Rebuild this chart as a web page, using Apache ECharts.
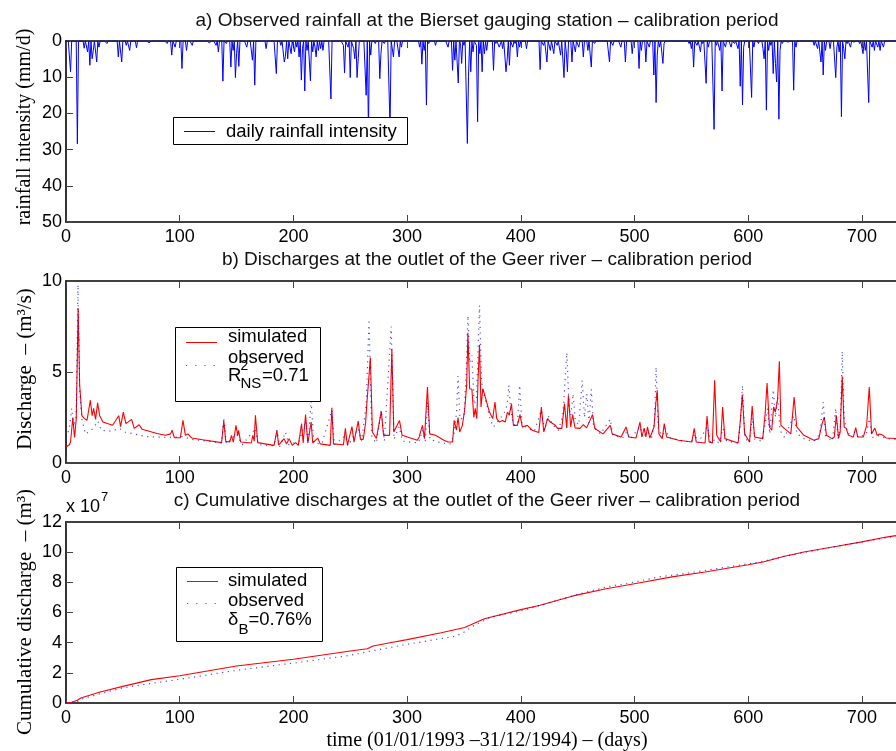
<!DOCTYPE html>
<html>
<head>
<meta charset="utf-8">
<script src="https://cdn.jsdelivr.net/npm/echarts@6/dist/echarts.min.js"></script>
<style>
html,body{margin:0;padding:0;background:#fff;overflow:hidden;}
#c{width:896px;height:751px;}
</style>
</head>
<body>
<div id="c"></div>
<script>
// ---------- DATA ----------
const xTicks = [0, 100, 200, 300, 400, 500, 600, 700];
const nDays = 730;

// rainy days: [day, mm/d] ; all other days are dry (0)
const rainfallEvents = [
[4,8.5],[10,28.4],[16,2],[19,3],[21,6.7],[23,4.9],[24,2.6],[27,5.8],[29,1.7],[33,0.5],[36,0.7],
[46,4.4],[49,5.8],[53,1.2],[56,2.6],[62,1.9],[73,0.5],[89,0.7],[93,3.9],[96,1.7],[102,7.6],[106,2.6],
[111,1.2],[126,0.5],[132,1.2],[134,3],[138,11.1],[141,0.7],[145,7.2],[147,2.6],[149,10.1],[150,3.5],
[152,7],[159,1.7],[164,5.3],[166,12.2],[176,2.1],[185,9],[189,1.2],[192,5.8],[193,4.2],[195,4.9],
[198,3.5],[201,3],[203,1.7],[205,4.4],[207,10.8],[208,2.1],[210,13.8],[212,2.6],[215,11],[217,3],
[219,1.7],[220,4.4],[222,2.6],[224,2.1],[226,2.6],[233,16],[244,1.2],[245,8.8],[248,1.7],[250,10.1],
[253,2.1],[254,4.9],[256,10.1],[257,4.9],[261,0.5],[264,15],[266,25],[268,3.9],[272,0.7],[276,10.4],
[277,3.5],[280,0.7],[285,24],[288,4.4],[293,4.4],[295,1.7],[305,0.5],[311,1.7],[313,6.4],[315,2.6],
[317,17.7],[319,0.7],[325,1.2],[333,0.5],[336,1.7],[340,8.1],[342,5.3],[345,11.6],[347,0.7],[348,6.2],
[350,1.2],[353,28.3],[354,9.9],[356,8.5],[358,3],[361,1.2],[362,22.3],[364,3.5],[366,8.5],[368,3.5],
[370,2.6],[376,8.1],[378,0.7],[381,1.7],[382,1.2],[384,2.1],[387,8.5],[388,5.3],[390,6.7],[393,1.7],
[395,0.7],[397,4.4],[399,1.7],[405,2.1],[417,7.9],[420,1.2],[423,5.8],[426,2.6],[429,3.5],[432,1.2],
[435,3.9],[438,10.1],[440,3],[441,8.5],[445,5.8],[448,3],[451,1.7],[455,4.4],[459,2.6],[462,7.2],
[465,0.7],[478,5.8],[481,1.2],[488,1.7],[492,5.8],[498,3.5],[504,7.6],[506,2.6],[510,5.8],[513,1.7],
[517,9.4],[519,17],[520,3.9],[522,1.7],[525,6.2],[526,0.7],[548,0.7],[550,2.1],[552,7.2],[555,1.2],
[558,3],[560,0.7],[563,11.7],[565,1.7],[570,24.4],[572,1.2],[575,2.6],[577,13.8],[580,1.7],[585,1.7],
[588,0.7],[591,2.1],[593,12.5],[595,17.7],[596,1.7],[600,0.3],[603,15.6],[605,1.7],[609,0.7],[613,2.1],
[614,4.9],[616,19.1],[618,2.6],[620,1.2],[622,9],[624,6.2],[625,11.3],[627,21.6],[628,2.6],[630,0.7],
[635,0.3],[640,13.6],[642,1.7],[658,1.2],[661,2.1],[664,5.8],[666,9.4],[668,2.6],[672,2.1],[677,10.1],
[678,1.7],[680,3],[682,20.9],[684,2.1],[685,4.9],[687,0.7],[690,1.7],[693,0.3],[698,0.7],[701,3.5],
[703,2.6],[706,17],[709,1.7],[711,2.6],[714,1.7],[716,2.6],[719,1.7]
];

// simulated discharge (m3/s): [day, Q]
const dischargeSim = [
[0,0.88],[3,1.0],[4,1.15],[6,2.5],[7.5,1.4],[9,2.4],[10.7,8.5],[12,4.3],[14,2.6],[16,2.45],[18.5,2.35],
[21.4,3.45],[23,2.6],[24.3,3.0],[26,2.4],[27.8,3.3],[29.6,2.6],[32.5,2.25],[41,2.07],[46.4,2.6],[48,2.0],
[50.4,2.8],[52.7,2.16],[57.7,2.4],[60,1.9],[64.3,2.1],[67,1.85],[80,1.62],[87.5,1.52],[92,1.6],[93.3,1.8],
[95.3,1.39],[100.6,1.39],[102.9,2.34],[105,1.52],[107.2,1.6],[110.7,1.37],[120,1.28],[136.8,1.12],
[138.8,2.3],[140.5,1.19],[144,1.15],[145.5,1.52],[147.2,1.15],[149.5,2.07],[151,1.5],[151.8,1.8],
[153.6,1.15],[163,1.1],[164.3,1.52],[165.5,1.2],[166.6,2.62],[168.6,1.12],[183,0.97],[185.5,1.8],[187,0.98],
[191.8,1.34],[194,1.05],[196.2,1.34],[199,0.97],[202,1.12],[204.3,0.97],[207.2,2.16],[208.6,1.1],
[210.7,2.66],[212.7,1.1],[215.6,2.25],[217,1.1],[221.4,1.37],[223.6,1.05],[232.4,0.97],[233.8,3.04],
[235.3,1.05],[244,1.0],[245.7,1.9],[247.5,0.97],[251.5,2.0],[253.3,1.15],[257,2.3],[259,1.3],[261.4,1.3],
[263.5,2.2],[264.5,3.17],[266,3.1],[267.7,5.8],[269.5,1.7],[273,1.35],[277.3,2.84],[279.3,1.52],
[284.6,1.52],[286.6,6.28],[288.3,1.7],[293.3,2.34],[295.6,1.52],[309,1.25],[310.6,1.43],[313.5,2.07],
[315.3,1.34],[317.9,4.18],[319.9,1.6],[325,1.52],[332.4,1.25],[336,1.15],[340,1.15],[341.4,2.34],
[343.4,1.8],[344.8,2.5],[346.3,1.7],[348.6,2.07],[350.6,2.9],[352.4,4.27],[353.5,7.16],[355,4.08],
[357,4.05],[358.7,2.5],[359.9,3.0],[361.3,2.44],[362.5,4.7],[363.7,6.5],[365,3.08],[366.6,4.08],[368,3.8],
[370,3.35],[372.4,2.8],[375.3,2.44],[377.3,3.35],[378.8,2.44],[381,2.25],[384,2.34],[386.3,2.25],
[388.3,2.8],[389.8,2.62],[391.8,3.26],[393.5,2.07],[397,2.07],[399.3,2.66],[401.3,1.98],[405.7,2.07],
[410,1.8],[415.8,1.67],[418.1,3.08],[420.2,1.7],[423.6,2.44],[426,2.25],[430.3,2.07],[432.3,1.9],
[436.1,1.9],[438.4,3.26],[440.4,1.93],[441.9,3.72],[443.9,1.98],[445.6,2.66],[447.7,1.93],[452,1.9],
[455,2.11],[457.9,1.93],[463.1,2.66],[465.1,1.9],[472.3,1.6],[478.7,2.07],[480.4,1.6],[488.2,1.43],
[492.6,1.98],[494.9,1.43],[501.3,1.37],[504.8,2.25],[506.5,1.43],[508.5,1.92],[510,1.43],[511.4,1.98],
[513.5,1.37],[517.2,1.98],[518.6,3.17],[520,4.0],[521.5,1.6],[524.4,1.34],[526.2,2.16],[528.2,1.43],
[538.8,1.25],[550.4,1.15],[552.5,1.9],[554.3,1.15],[562.1,1.1],[563.8,2.58],[565.6,1.15],[568.5,1.1],
[570.5,4.54],[572.3,1.52],[575.8,1.15],[577.5,3.08],[579.5,1.34],[591.1,1.1],[593.1,2.34],[594.8,3.75],
[596.9,1.6],[601.2,1.15],[603.5,3.13],[605.6,1.43],[612.8,1.34],[614.9,2.71],[616.6,4.4],[618.7,1.98],
[620.7,1.8],[622.4,3.08],[623.9,2.8],[625.9,3.53],[627.4,5.59],[628.8,2.07],[631.7,1.9],[637.5,1.6],
[640.4,3.63],[642.7,1.98],[649,1.52],[657.8,1.25],[662.1,1.34],[665,2.16],[667,2.53],[668.8,1.52],
[673.7,1.34],[675.7,1.43],[677.5,2.62],[679.5,1.37],[680.9,1.7],[682.7,4.76],[684.4,1.98],[686.2,1.9],
[688.2,1.52],[692.5,1.43],[694.6,1.94],[696.3,1.43],[701.3,1.43],[704.2,2.07],[706.5,4.18],[708.5,1.6],
[711.4,1.92],[713.4,1.52],[715.7,1.6],[718.6,1.52],[721.5,1.37],[730,1.35]
];

// observed discharge (m3/s): [day, Q]
const dischargeObs = [
[0,1.4],[3,1.9],[5,3.0],[7,2.0],[9,2.6],[10.5,9.8],[12,4.0],[14,2.4],[17,1.6],[20,1.7],[24,1.9],[28,2.3],
[31,1.8],[40,1.75],[47,1.9],[52,1.7],[60,1.6],[70,1.45],[90,1.4],[103,1.45],[110,1.3],[125,1.2],[137,1.1],
[138.8,2.5],[141,1.05],[150,1.6],[155,1.0],[166.6,1.9],[169,1.0],[183,0.95],[185.5,1.8],[188,0.9],[193,1.7],
[196,1.0],[205,1.2],[210.7,2.3],[213,1.1],[215.6,3.4],[218,1.1],[225,1.05],[233.8,2.9],[236,1.0],
[245.7,1.5],[248,0.95],[257,1.9],[260,1.2],[264,3.2],[266.5,7.9],[269,1.4],[273,1.1],[277.3,2.9],
[280,1.2],[286,7.5],[288.5,1.3],[293,2.0],[296,1.2],[310,1.1],[313.5,1.8],[316,1.2],[318,3.35],[320,1.3],
[330,1.1],[338,1.05],[341,1.5],[343.5,2.8],[344.8,4.78],[346.5,2.4],[350,2.5],[352,5.0],[353.5,8.1],
[355,5.5],[357,5.9],[359,3.2],[361,3.5],[363.7,8.66],[365.5,4.5],[367,3.9],[370,3.2],[373,2.4],[376,1.98],
[380,2.3],[385,2.7],[388,3.2],[389.5,4.27],[391,3.0],[393.5,2.1],[397,2.1],[399,4.27],[401,2.2],[406,1.9],
[412,1.75],[418,2.9],[421,1.8],[424,2.6],[428,2.1],[433,1.8],[437,2.6],[440.5,6.06],[442.5,3.0],[444,2.6],
[446,3.8],[448,2.3],[451,2.1],[454,4.54],[456,2.5],[458,3.8],[460,2.2],[462,4.05],[464,2.0],[470,1.6],
[478.7,2.4],[481,1.5],[490,1.4],[493,1.7],[496,1.3],[505,2.0],[507,1.4],[512,1.7],[515,1.4],[517.5,2.2],
[519,5.27],[521,1.8],[525,1.5],[527,1.9],[530,1.4],[540,1.25],[550,1.15],[553,1.6],[556,1.1],[564,2.0],
[567,1.1],[571,1.3],[574,1.1],[578,1.9],[581,1.2],[591,1.1],[593,2.0],[595,4.27],[597,1.4],[601,1.1],
[603.5,2.5],[606,1.3],[612,1.2],[615,2.2],[617,3.0],[619,1.6],[622,4.03],[624,2.5],[626,3.6],[628,1.8],
[632,1.4],[640,2.6],[643,1.6],[650,1.3],[658,1.2],[663,1.6],[666,3.35],[668,1.5],[674,1.2],[677,3.0],
[679,1.3],[681,2.0],[682.7,6.14],[684.5,2.3],[688,1.6],[694,1.7],[697,1.4],[704,1.6],[706.5,2.44],
[709,1.4],[715,1.5],[721,1.35],[730,1.3]
];

// cumulative discharge (x 1e7 m3): [day, V]
const cumulativeSim = [
[0,0],[5,0.05],[10,0.18],[13,0.33],[30,0.73],[50,1.1],[75,1.55],[100,1.81],[150,2.45],[200,2.9],[250,3.45],
[265,3.6],[270,3.78],[285,4.0],[300,4.2],[330,4.66],[350.6,5.0],[368,5.59],[400,6.19],[417,6.48],[446,7.1],
[475,7.58],[500,7.91],[533,8.36],[562,8.69],[600,9.17],[613,9.35],[632,9.73],[649,10.01],[678,10.39],
[700,10.68],[721.5,11.0],[730,11.1]
];
const cumulativeObs = [
[0,0],[5,0.03],[10,0.1],[13,0.25],[30,0.62],[50,1.0],[75,1.3],[100,1.57],[150,2.17],[200,2.65],[250,3.16],
[265,3.4],[300,3.89],[330,4.27],[342,4.42],[349,4.64],[359,5.15],[374,5.7],[400,6.1],[417,6.48],[446,7.12],
[475,7.69],[500,8.02],[521.5,8.36],[547.6,8.62],[568,8.86],[595,9.17],[613,9.39],[632,9.73],[678,10.39],
[721.5,10.96],[730,11.05]
];

const titles = [
  'a) Observed rainfall at the Bierset gauging station \u2013 calibration period',
  'b) Discharges at the outlet of the Geer river \u2013 calibration period',
  'c) Cumulative discharges at the outlet of the Geer river \u2013 calibration period'
];
const yNames = ['rainfall intensity (mm/d)', 'Discharge  \u2013 (m\u00B3/s)', 'Cumulative discharge  \u2013 (m\u00B3)'];
const xName = 'time (01/01/1993 \u201331/12/1994) \u2013 (days)';

// ---------- build ----------
const rainDaily = [];
for (let d = 0; d <= nDays; d++) rainDaily.push([d, 0]);
rainfallEvents.forEach(e => { rainDaily[e[0]][1] = e[1]; });

const SANS = 'Liberation Sans, Arial, Helvetica, sans-serif';
const SERIF = 'Liberation Serif, Times New Roman, serif';
const BLUE = '#0000ff', RED = '#ff0000';

const grids = [
  {left: 66, top: 41, width: 840, height: 181},
  {left: 66, top: 281, width: 840, height: 182},
  {left: 66, top: 522, width: 840, height: 181}
];

function xAxes(gi) {
  const common = {
    type: 'value', gridIndex: gi, min: 0, max: nDays, interval: 100,
    splitLine: {show: false},
    axisLine: {show: true, onZero: false, lineStyle: {color: '#000', width: 1.6}},
    axisTick: {show: true, inside: true, length: 7, lineStyle: {color: '#444', width: 1}}
  };
  return [
    Object.assign({}, common, {position: 'bottom',
      axisLabel: {show: true, color: '#000', fontFamily: SANS, fontSize: 18, margin: 6, showMaxLabel: false,
        formatter: v => xTicks.indexOf(v) >= 0 ? String(v) : ''}}),
    Object.assign({}, common, {position: 'top', axisLabel: {show: false}})
  ];
}
function yAxis(gi, min, max, interval, inverse) {
  return {
    type: 'value', gridIndex: gi, min: min, max: max, interval: interval, inverse: inverse,
    splitLine: {show: false},
    axisLine: {show: true, onZero: false, lineStyle: {color: '#000', width: 1.6}},
    axisTick: {show: true, inside: true, length: 7, lineStyle: {color: '#444', width: 1}},
    axisLabel: {color: '#000', fontFamily: SANS, fontSize: 18, margin: 4}
  };
}

const dotted = {color: BLUE, width: 1.2, type: [1.2, 4.5], opacity: 0.7};

const graphics = [];
// titles
[[titles[0], 20.5], [titles[1], 259.5], [titles[2], 501]].forEach(t => {
  graphics.push({type: 'text', x: 487, y: t[1], z: 100,
    style: {text: t[0], font: '19px ' + SANS, fill: '#111', textAlign: 'center', textVerticalAlign: 'middle'}});
});
// y names
[[yNames[0], 127, 20], [yNames[1], 369, 21], [yNames[2], 612, 21]].forEach(t => {
  graphics.push({type: 'text', x: 25, y: t[1], rotation: Math.PI / 2, z: 100,
    style: {text: t[0], font: t[2] + 'px ' + SERIF, fill: '#000', textAlign: 'center', textVerticalAlign: 'middle'}});
});
// x name
graphics.push({type: 'text', x: 487, y: 741, z: 100,
  style: {text: xName, font: '20px ' + SERIF, fill: '#000', textAlign: 'center', textVerticalAlign: 'middle'}});
// x 10^7
graphics.push({type: 'text', x: 66, y: 507, z: 100,
  style: {text: 'x 10', font: '18px ' + SANS, fill: '#000', textAlign: 'left', textVerticalAlign: 'middle'}});
graphics.push({type: 'text', x: 101, y: 497, z: 100,
  style: {text: '7', font: '13px ' + SANS, fill: '#000', textAlign: 'left', textVerticalAlign: 'middle'}});

// legend a
graphics.push({type: 'rect', z: 100, shape: {x: 173.5, y: 117.5, width: 234, height: 27},
  style: {fill: '#fff', stroke: '#000', lineWidth: 1}});
graphics.push({type: 'line', z: 101, shape: {x1: 184, y1: 131.5, x2: 215, y2: 131.5},
  style: {stroke: BLUE, lineWidth: 1}});
graphics.push({type: 'text', z: 101, x: 226, y: 131.5,
  style: {text: 'daily rainfall intensity', font: '18.5px ' + SANS, fill: '#000', textVerticalAlign: 'middle'}});

// legend b
graphics.push({type: 'rect', z: 100, shape: {x: 175.5, y: 327.5, width: 145, height: 74},
  style: {fill: '#fff', stroke: '#000', lineWidth: 1}});
graphics.push({type: 'line', z: 101, shape: {x1: 186, y1: 342.5, x2: 217, y2: 342.5},
  style: {stroke: RED, lineWidth: 1}});
graphics.push({type: 'text', z: 101, x: 228, y: 337,
  style: {text: 'simulated', font: '18.5px ' + SANS, fill: '#000', textVerticalAlign: 'middle'}});
graphics.push({type: 'line', z: 101, shape: {x1: 186, y1: 365.5, x2: 217, y2: 365.5},
  style: {stroke: BLUE, lineWidth: 1.2, lineDash: [1.2, 8], opacity: 0.7}});
graphics.push({type: 'text', z: 101, x: 228, y: 357.5,
  style: {text: 'observed', font: '18.5px ' + SANS, fill: '#000', textVerticalAlign: 'middle'}});
graphics.push({type: 'text', z: 101, x: 228, y: 375.5,
  style: {text: 'R', font: '18.5px ' + SANS, fill: '#000', textVerticalAlign: 'middle'}});
graphics.push({type: 'text', z: 101, x: 240.5, y: 366,
  style: {text: '2', font: '14px ' + SANS, fill: '#000', textVerticalAlign: 'middle'}});
graphics.push({type: 'text', z: 101, x: 240.5, y: 384,
  style: {text: 'NS', font: '15px ' + SANS, fill: '#000', textVerticalAlign: 'middle'}});
graphics.push({type: 'text', z: 101, x: 262, y: 375.5,
  style: {text: '=0.71', font: '18.5px ' + SANS, fill: '#000', textVerticalAlign: 'middle'}});

// legend c
graphics.push({type: 'rect', z: 100, shape: {x: 176.5, y: 567.5, width: 146, height: 74},
  style: {fill: '#fff', stroke: '#000', lineWidth: 1}});
graphics.push({type: 'line', z: 101, shape: {x1: 187, y1: 581.5, x2: 218, y2: 581.5},
  style: {stroke: RED, lineWidth: 1}});
graphics.push({type: 'text', z: 101, x: 228, y: 580.5,
  style: {text: 'simulated', font: '18.5px ' + SANS, fill: '#000', textVerticalAlign: 'middle'}});
graphics.push({type: 'line', z: 101, shape: {x1: 187, y1: 603.5, x2: 218, y2: 603.5},
  style: {stroke: BLUE, lineWidth: 1.2, lineDash: [1.2, 8], opacity: 0.7}});
graphics.push({type: 'text', z: 101, x: 228, y: 600.5,
  style: {text: 'observed', font: '18.5px ' + SANS, fill: '#000', textVerticalAlign: 'middle'}});
graphics.push({type: 'text', z: 101, x: 228, y: 620,
  style: {text: '\u03B4', font: '18.5px ' + SANS, fill: '#000', textVerticalAlign: 'middle'}});
graphics.push({type: 'text', z: 101, x: 238.5, y: 630,
  style: {text: 'B', font: '15px ' + SANS, fill: '#000', textVerticalAlign: 'middle'}});
graphics.push({type: 'text', z: 101, x: 248.5, y: 620,
  style: {text: '=0.76%', font: '18.5px ' + SANS, fill: '#000', textVerticalAlign: 'middle'}});

const option = {
  animation: false,
  backgroundColor: '#fff',
  grid: grids,
  xAxis: [].concat(xAxes(0), xAxes(1), xAxes(2)),
  yAxis: [yAxis(0, 0, 50, 10, true), yAxis(1, 0, 10, 5, false), yAxis(2, 0, 12, 2, false)],
  series: [
    {type: 'line', name: 'daily rainfall intensity', xAxisIndex: 0, yAxisIndex: 0, data: rainDaily,
      showSymbol: false, lineStyle: {color: BLUE, width: 1}, z: 3},
    {type: 'line', name: 'simulated', xAxisIndex: 2, yAxisIndex: 1, data: dischargeSim,
      showSymbol: false, lineStyle: {color: RED, width: 1.1}, z: 3},
    {type: 'line', name: 'observed', xAxisIndex: 2, yAxisIndex: 1, data: dischargeObs,
      showSymbol: false, lineStyle: dotted, z: 4},
    {type: 'line', name: 'simulated', xAxisIndex: 4, yAxisIndex: 2, data: cumulativeSim,
      showSymbol: false, lineStyle: {color: RED, width: 1.1}, z: 3},
    {type: 'line', name: 'observed', xAxisIndex: 4, yAxisIndex: 2, data: cumulativeObs,
      showSymbol: false, lineStyle: dotted, z: 4}
  ],
  graphic: graphics
};

const chart = echarts.init(document.getElementById('c'), null, {renderer: 'canvas'});
chart.setOption(option);
</script>
</body>
</html>
